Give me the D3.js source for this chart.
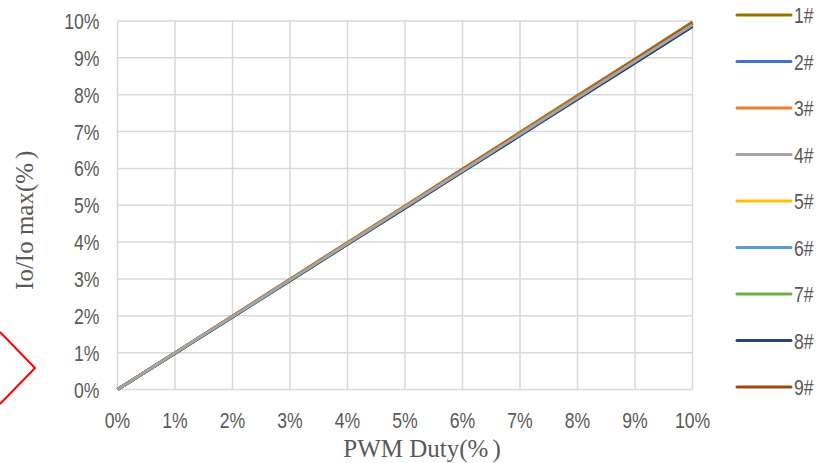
<!DOCTYPE html>
<html><head><meta charset="utf-8">
<script src="https://cdn.jsdelivr.net/npm/d3@7"></script>
<style>body{margin:0;background:#fff}svg{display:block}</style>
</head><body>
<svg id="c" width="825" height="463"></svg>
<script>
const xValues = [0,1,2,3,4,5,6,7,8,9,10];
const seriesNames = ["1#","2#","3#","4#","5#","6#","7#","8#","9#"];
const s1 = [0,0.99,1.99,2.99,3.99,4.98,5.98,6.98,7.98,8.97,9.97];
const s2 = [0,0.99,1.98,2.96,3.95,4.94,5.93,6.92,7.91,8.89,9.88];
const s3 = [0,0.99,1.99,2.98,3.98,4.97,5.97,6.96,7.95,8.95,9.94];
const s4 = [0,0.99,1.98,2.97,3.96,4.95,5.94,6.93,7.92,8.91,9.90];
const s5 = [0,0.99,1.98,2.98,3.97,4.96,5.95,6.94,7.94,8.93,9.92];
const s6 = [0,0.99,1.97,2.96,3.95,4.94,5.92,6.91,7.90,8.88,9.87];
const s7 = [0,0.99,1.97,2.96,3.94,4.93,5.92,6.90,7.89,8.87,9.86];
const s8 = [0,0.98,1.97,2.95,3.94,4.92,5.91,6.89,7.88,8.86,9.85];
const s9 = [0,0.99,1.99,2.98,3.97,4.96,5.96,6.95,7.94,8.94,9.93];
const seriesValues = [s1,s2,s3,s4,s5,s6,s7,s8,s9];
const colors = ["#997300","#4472C4","#ED7D31","#A5A5A5","#FFC000","#5B9BD5","#70AD47","#264478","#9E480E"];
const tickValues = [0,1,2,3,4,5,6,7,8,9,10];
const tickLabels = ["0%","1%","2%","3%","4%","5%","6%","7%","8%","9%","10%"];
const xTitle = "PWM Duty(%";
const yTitle = "Io/Io max(%";

const svg = d3.select("#c");
const L = 117.5, R = 692.5, T = 21, B = 389.5;
const x = d3.scaleLinear().domain([0,10]).range([L,R]);
const y = d3.scaleLinear().domain([0,10]).range([B,T]);
const tickFont = "'Liberation Sans',Arial,sans-serif";
const serif = "'Liberation Serif','Times New Roman',serif";
const txt = "#595959";
const SX = 0.8;

// red chevron decoration
svg.append("path").attr("d","M0,332 L35,368 L0,404").attr("fill","none")
  .attr("stroke","#FF0000").attr("stroke-width",2);

// grid
const g = svg.append("g");
g.selectAll("line.v").data(tickValues).join("line").attr("class","v")
  .attr("x1",d=>x(d)).attr("x2",d=>x(d)).attr("y1",T).attr("y2",B)
  .attr("stroke","#d9d9d9").attr("stroke-width",1.5);
g.selectAll("line.h").data(tickValues).join("line").attr("class","h")
  .attr("x1",L).attr("x2",R).attr("y1",d=>y(d)).attr("y2",d=>y(d))
  .attr("stroke","#d9d9d9").attr("stroke-width",1.5);

// tick labels (condensed look)
svg.append("g").selectAll("text").data(tickValues).join("text")
  .attr("transform",d=>`translate(${x(d)},428) scale(${SX},1)`)
  .attr("text-anchor","middle").attr("font-family",tickFont).attr("font-size",22).attr("fill",txt)
  .text((d,i)=>tickLabels[i]);
svg.append("g").selectAll("text").data(tickValues).join("text")
  .attr("transform",d=>`translate(99.5,${y(d)+8}) scale(${SX},1)`)
  .attr("text-anchor","end").attr("font-family",tickFont).attr("font-size",22).attr("fill",txt)
  .text((d,i)=>tickLabels[i]);

// titles
const xt = svg.append("text").attr("x",422).attr("y",457).attr("text-anchor","middle")
  .attr("font-family",serif).attr("font-size",25).attr("fill",txt);
xt.append("tspan").text(xTitle);
xt.append("tspan").attr("dx",4).text(")");
const yt = svg.append("text").attr("transform",`translate(33,${(T+B)/2+15}) rotate(-90)`).attr("text-anchor","middle")
  .attr("font-family",serif).attr("font-size",25).attr("fill",txt);
yt.append("tspan").text(yTitle);
yt.append("tspan").attr("dx",4).text(")");

// lines
const line = d3.line().x((d,i)=>x(xValues[i])).y(d=>y(d));
const order = [0,1,2,4,5,6,7,8,3];
svg.append("g").selectAll("path").data(order).join("path")
  .attr("d",i=>line(seriesValues[i])).attr("fill","none")
  .attr("stroke",i=>colors[i]).attr("stroke-width",3).attr("stroke-linejoin","round");

// legend
const lg = svg.append("g");
const ly = i => 15 + i*46.5;
seriesNames.forEach((n,i)=>{
  lg.append("line").attr("x1",737).attr("x2",791).attr("y1",ly(i)).attr("y2",ly(i))
    .attr("stroke",colors[i]).attr("stroke-width",3).attr("stroke-linecap","round");
  lg.append("text").attr("transform",`translate(794,${ly(i)+8}) scale(${SX},1)`)
    .attr("font-family",tickFont).attr("font-size",22).attr("fill",txt).text(n);
});
</script>
</body></html>
